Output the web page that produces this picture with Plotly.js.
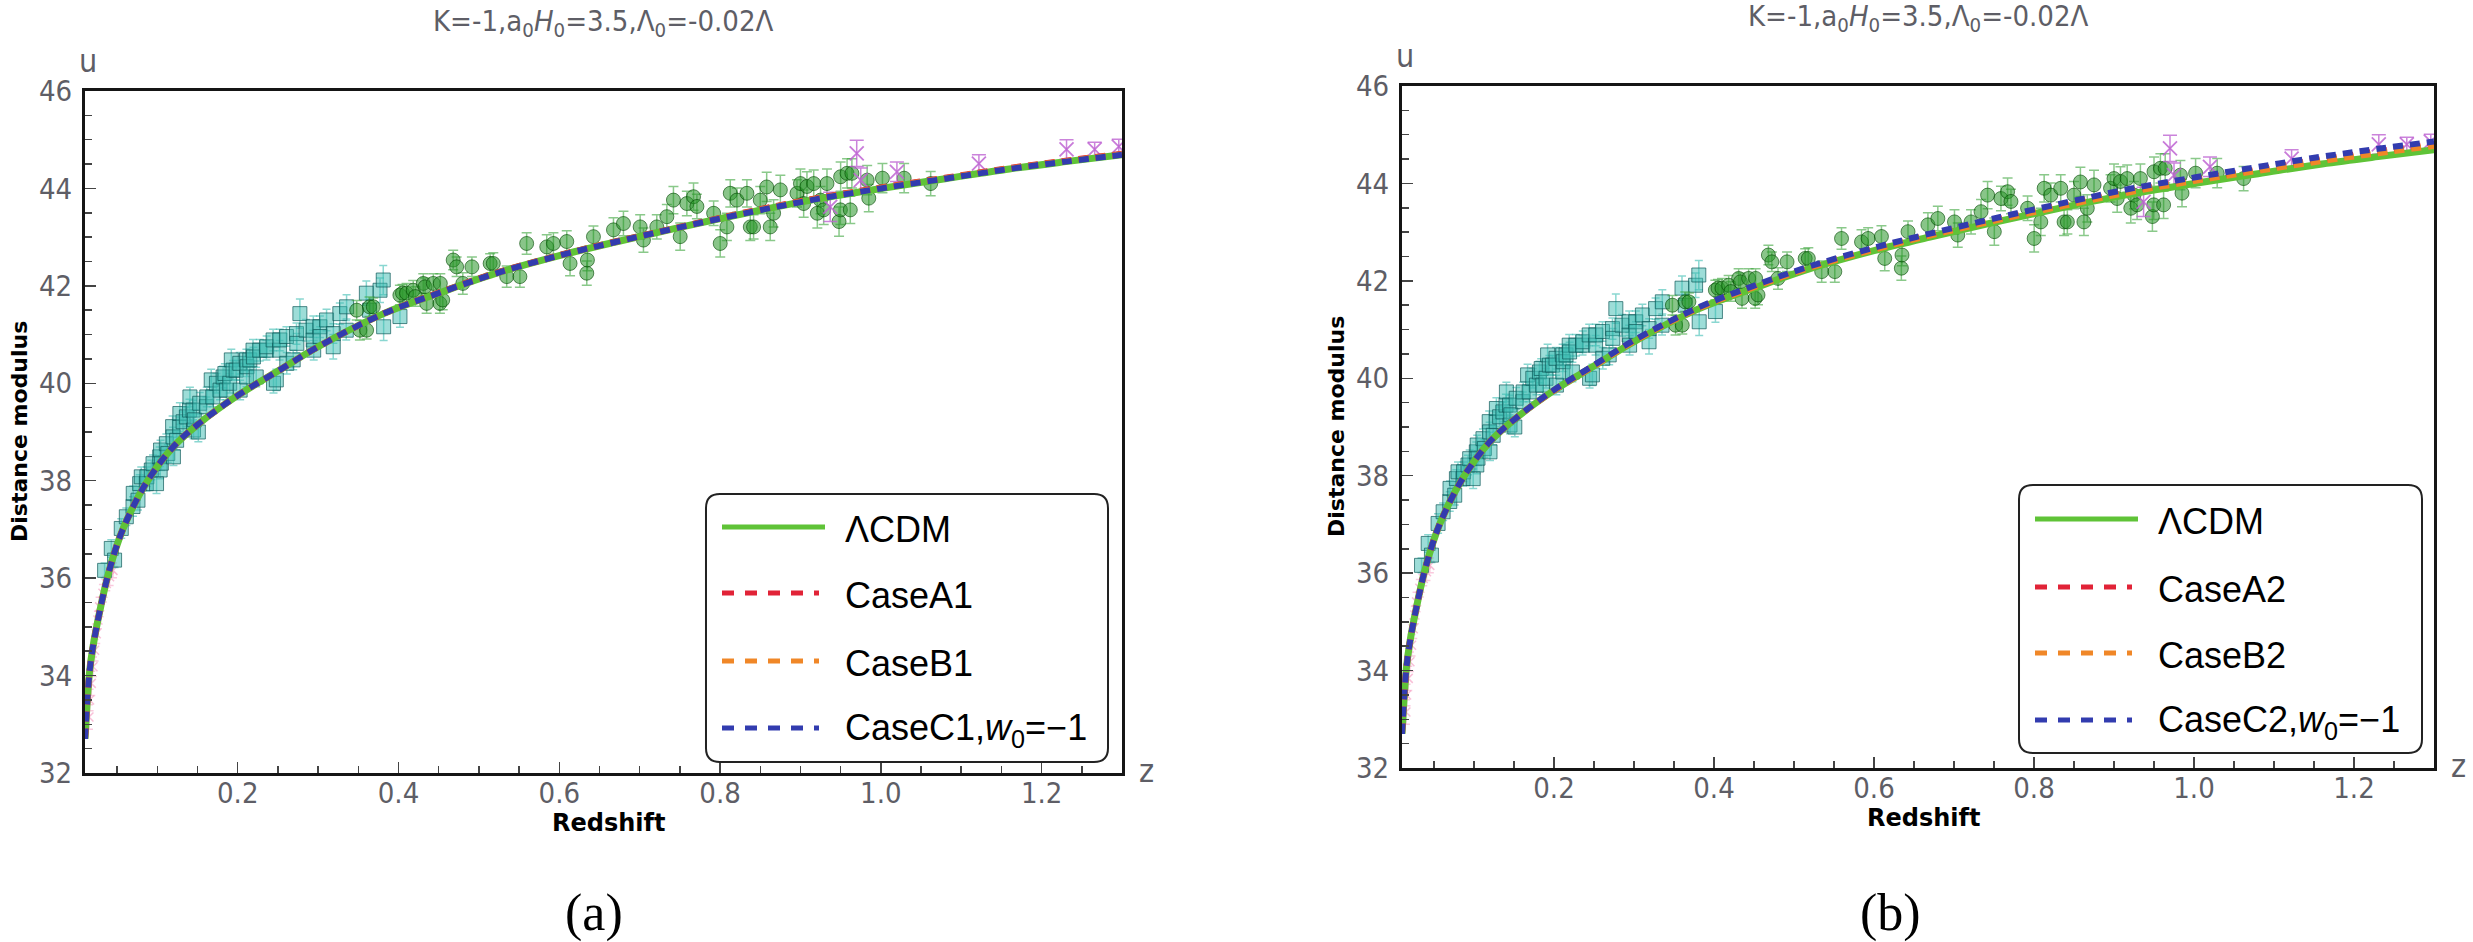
<!DOCTYPE html>
<html>
<head>
<meta charset="utf-8">
<script src="https://cdn.plot.ly/plotly-3.0.1.min.js"></script>
<style>
  html, body { margin: 0; padding: 0; background: #fff; }
  #chart { width: 2473px; height: 942px; }
</style>
</head>
<body>
<div id="chart"></div>
<script>
// page size in px
const W = 2473, H = 942;

// ---- data (same supernova sample in both panels) ----
// low-z sample, cyan squares
const zCyan = [0.0344, 0.0427, 0.0468, 0.0551, 0.0614, 0.0697, 0.0700, 0.0759, 0.0780, 0.0800,
  0.0863, 0.0870, 0.0925, 0.0946, 0.0990, 0.1029, 0.1035, 0.1040, 0.1050, 0.1112,
  0.1130, 0.1190, 0.1195, 0.1200, 0.1240, 0.1278, 0.1280, 0.1320, 0.1361, 0.1400,
  0.1405, 0.1444, 0.1450, 0.1460, 0.1510, 0.1527, 0.1610, 0.1615, 0.1670, 0.1690,
  0.1735, 0.1780, 0.1818, 0.1840, 0.1859, 0.1900, 0.1920, 0.1942, 0.1980, 0.2025,
  0.2030, 0.2108, 0.2110, 0.2115, 0.2150, 0.2190, 0.2195, 0.2230, 0.2274, 0.2357,
  0.2360, 0.2440, 0.2445, 0.2480, 0.2520, 0.2523, 0.2606, 0.2610, 0.2690, 0.2731,
  0.2735, 0.2773, 0.2850, 0.2939, 0.2940, 0.2945, 0.3022, 0.3025, 0.3105, 0.3188,
  0.3190, 0.3270, 0.3350, 0.3354, 0.3600, 0.3640, 0.3770, 0.3810, 0.3815, 0.4018];
const muCyan = [36.16, 36.61, 36.37, 37.02, 37.26, 37.47, 37.74, 37.60, 37.94, 38.08,
  37.94, 38.08, 38.22, 38.35, 37.94, 38.49, 38.22, 38.63, 38.36, 38.76,
  38.56, 39.11, 38.90, 38.49, 38.83, 39.11, 39.38, 39.21, 39.31, 39.45,
  39.72, 39.45, 39.04, 39.25, 39.00, 39.59, 39.52, 39.72, 40.07, 39.72,
  40.00, 39.86, 40.13, 40.20, 39.86, 40.00, 40.48, 40.27, 40.27, 40.41,
  39.86, 40.48, 40.13, 40.34, 40.48, 40.68, 40.54, 40.13, 40.68, 40.68,
  40.75, 40.89, 40.00, 40.07, 40.68, 40.89, 40.96, 40.41, 40.48, 41.02,
  40.82, 41.43, 41.09, 40.89, 41.16, 40.68, 41.16, 40.96, 41.30, 40.75,
  41.02, 41.43, 41.09, 41.57, 41.85, 41.50, 41.91, 42.12, 41.16, 41.37];
const errCyan = [0.15, 0.18, 0.15, 0.20, 0.18, 0.20, 0.15, 0.20, 0.18, 0.20,
  0.15, 0.20, 0.20, 0.18, 0.20, 0.20, 0.18, 0.20, 0.15, 0.20,
  0.18, 0.22, 0.20, 0.18, 0.20, 0.20, 0.22, 0.20, 0.20, 0.22,
  0.20, 0.20, 0.18, 0.20, 0.20, 0.22, 0.20, 0.20, 0.22, 0.20,
  0.20, 0.20, 0.22, 0.20, 0.20, 0.20, 0.22, 0.20, 0.20, 0.22,
  0.20, 0.22, 0.20, 0.20, 0.22, 0.22, 0.20, 0.20, 0.22, 0.20,
  0.22, 0.22, 0.20, 0.22, 0.20, 0.22, 0.20, 0.22, 0.20, 0.22,
  0.20, 0.30, 0.22, 0.20, 0.22, 0.20, 0.22, 0.20, 0.22, 0.25,
  0.20, 0.22, 0.20, 0.25, 0.25, 0.22, 0.25, 0.30, 0.28, 0.22];

// very low-z sample, faint pink crosses
const zPink = [0.0149, 0.0157, 0.0178, 0.0199, 0.0219, 0.0240, 0.0261, 0.0282, 0.0323, 0.0365, 0.0406, 0.0448];
const muPink = [33.15, 33.50, 33.84, 34.18, 34.52, 34.86, 35.14, 35.41, 35.69, 35.89, 36.03, 36.16];
const errPink = [0.25, 0.22, 0.25, 0.20, 0.22, 0.20, 0.18, 0.20, 0.18, 0.15, 0.18, 0.15];

// intermediate sample, green circles
const zGreen = [0.348, 0.352, 0.3603, 0.364, 0.3686, 0.4017, 0.405, 0.410, 0.4183, 0.421,
  0.4308, 0.433, 0.435, 0.4433, 0.4515, 0.4520, 0.455, 0.468, 0.4723, 0.480,
  0.4913, 0.514, 0.5179, 0.5346, 0.551, 0.5594, 0.5844, 0.5927, 0.6093, 0.6134,
  0.6342, 0.6350, 0.6425, 0.6674, 0.6798, 0.7006, 0.7047, 0.7213, 0.7338, 0.742,
  0.7504, 0.7587, 0.767, 0.7712, 0.792, 0.8002, 0.8085, 0.8127, 0.821, 0.8334,
  0.8376, 0.8417, 0.850, 0.858, 0.8624, 0.8666, 0.875, 0.8957, 0.900, 0.904,
  0.9081, 0.9165, 0.921, 0.925, 0.9289, 0.933, 0.948, 0.9497, 0.950, 0.958,
  0.962, 0.964, 0.983, 0.985, 1.002, 1.029, 1.062];
const muGreen = [41.50, 41.09, 41.09, 41.57, 41.57, 41.81, 41.85, 41.85, 41.91, 41.78,
  42.05, 41.98, 41.64, 42.05, 41.64, 42.05, 41.71, 42.53, 42.39, 42.05,
  42.39, 42.46, 42.46, 42.19, 42.19, 42.87, 42.80, 42.87, 42.91, 42.46,
  42.26, 42.53, 43.01, 43.15, 43.28, 43.21, 42.94, 43.21, 43.42, 43.76,
  43.01, 43.69, 43.83, 43.63, 43.49, 42.87, 43.21, 43.90, 43.76, 43.90,
  43.21, 43.21, 43.76, 44.03, 43.21, 43.49, 43.97, 43.90, 44.10, 43.69,
  44.04, 44.10, 43.49, 43.76, 43.56, 44.10, 43.32, 43.56, 44.24, 44.31,
  43.56, 44.31, 44.17, 43.80, 44.21, 44.21, 44.10];
const errGreen = [0.20, 0.20, 0.18, 0.20, 0.18, 0.20, 0.18, 0.20, 0.20, 0.20,
  0.20, 0.18, 0.20, 0.20, 0.20, 0.20, 0.20, 0.20, 0.20, 0.22,
  0.20, 0.20, 0.22, 0.22, 0.22, 0.22, 0.25, 0.22, 0.22, 0.25,
  0.25, 0.22, 0.22, 0.25, 0.25, 0.25, 0.25, 0.25, 0.25, 0.28,
  0.28, 0.25, 0.28, 0.25, 0.25, 0.28, 0.28, 0.28, 0.25, 0.28,
  0.28, 0.25, 0.28, 0.30, 0.28, 0.28, 0.30, 0.28, 0.30, 0.28,
  0.30, 0.28, 0.30, 0.28, 0.30, 0.30, 0.30, 0.30, 0.30, 0.30,
  0.28, 0.30, 0.30, 0.28, 0.30, 0.30, 0.25];

// high-z sample, purple crosses
const zPurple = [0.937, 0.970, 0.975, 1.020, 1.122, 1.231, 1.266, 1.296];
const muPurple = [43.62, 44.72, 44.17, 44.34, 44.51, 44.80, 44.80, 44.86];
const errPurple = [0.30, 0.27, 0.25, 0.20, 0.18, 0.20, 0.15, 0.15];

// model curves
const zModel = [0.01, 0.0155, 0.02, 0.03, 0.04, 0.057, 0.086, 0.12, 0.15, 0.2, 0.25, 0.3, 0.38,
  0.45, 0.52, 0.6, 0.67, 0.75, 0.84, 0.92, 1.0, 1.08, 1.16, 1.23, 1.3];
const muLCDM = [32.70, 34.05, 34.60, 35.45, 36.15, 37.00, 37.95, 38.70, 39.15, 39.75, 40.25, 40.75, 41.42,
  41.85, 42.25, 42.62, 42.90, 43.20, 43.52, 43.78, 44.00, 44.20, 44.40, 44.55, 44.69];
// panel (a)
const muA1 = [32.70, 34.05, 34.60, 35.45, 36.15, 37.00, 37.95, 38.70, 39.15, 39.75, 40.25, 40.75, 41.42,
  41.86, 42.26, 42.63, 42.91, 43.21, 43.54, 43.80, 44.02, 44.22, 44.42, 44.57, 44.71];
const muB1 = [32.70, 34.05, 34.60, 35.45, 36.15, 37.00, 37.95, 38.70, 39.15, 39.75, 40.25, 40.75, 41.42,
  41.85, 42.25, 42.62, 42.90, 43.20, 43.53, 43.79, 44.01, 44.21, 44.41, 44.56, 44.70];
const muC1 = [32.70, 34.05, 34.60, 35.45, 36.15, 37.00, 37.95, 38.70, 39.15, 39.75, 40.25, 40.75, 41.42,
  41.85, 42.25, 42.62, 42.90, 43.20, 43.52, 43.78, 44.00, 44.20, 44.40, 44.55, 44.69];
// panel (b)
const muA2 = [32.70, 34.05, 34.60, 35.45, 36.15, 37.00, 37.95, 38.70, 39.15, 39.75, 40.26, 40.77, 41.44,
  41.88, 42.28, 42.66, 42.95, 43.25, 43.58, 43.85, 44.08, 44.29, 44.50, 44.66, 44.81];
const muB2 = [32.70, 34.05, 34.60, 35.45, 36.15, 37.00, 37.95, 38.70, 39.15, 39.75, 40.25, 40.76, 41.43,
  41.87, 42.27, 42.64, 42.93, 43.23, 43.55, 43.82, 44.05, 44.26, 44.46, 44.62, 44.77];
const muC2 = [32.70, 34.05, 34.60, 35.45, 36.15, 37.00, 37.95, 38.70, 39.15, 39.76, 40.27, 40.78, 41.45,
  41.90, 42.30, 42.68, 42.97, 43.28, 43.61, 43.89, 44.12, 44.34, 44.55, 44.71, 44.86];

const titleText = 'K=-1,a<sub>0</sub><i>H</i><sub>0</sub>=3.5,Λ<sub>0</sub>=-0.02Λ';
const legendA = ['ΛCDM', 'CaseA1', 'CaseB1', 'CaseC1,<i>w</i><sub>0</sub>=−1'];
const legendB = ['ΛCDM', 'CaseA2', 'CaseB2', 'CaseC2,<i>w</i><sub>0</sub>=−1'];

// ---- styles ----
const cGreenLine = 'rgb(95,195,55)';
const cRed = 'rgb(225,35,55)';
const cOrange = 'rgb(240,135,40)';
const cBlue = 'rgb(50,60,175)';
const curveColors = [cGreenLine, cRed, cOrange, cBlue];
const dashPat = '10px,7px';
const narrow = "'Liberation Sans Narrow', 'DejaVu Sans Condensed', 'Liberation Sans', sans-serif";
const grayText = '#5e5e66';

function px(x) { return x / W; }
function py(y) { return 1 - y / H; }

function dataTraces(xa, ya) {
  return [
    {
      x: zPink, y: muPink, xaxis: xa, yaxis: ya, type: 'scatter', mode: 'markers',
      marker: { symbol: 'x-thin-open', size: 9, color: 'rgba(245,150,190,0.6)',
        line: { width: 1.5, color: 'rgba(245,150,190,0.6)' } },
      error_y: { type: 'data', array: errPink, color: 'rgba(245,150,190,0.5)', thickness: 1.5, width: 4 },
      showlegend: false, hoverinfo: 'skip'
    },
    {
      x: zCyan, y: muCyan, xaxis: xa, yaxis: ya, type: 'scatter', mode: 'markers',
      marker: { symbol: 'square', size: 14, color: 'rgba(60,188,178,0.5)',
        line: { width: 1, color: 'rgba(15,90,90,0.7)' } },
      error_y: { type: 'data', array: errCyan, color: 'rgba(60,188,178,0.6)', thickness: 1.5, width: 4 },
      showlegend: false, hoverinfo: 'skip'
    },
    {
      x: zGreen, y: muGreen, xaxis: xa, yaxis: ya, type: 'scatter', mode: 'markers',
      marker: { symbol: 'circle', size: 14, color: 'rgba(40,150,40,0.55)',
        line: { width: 1, color: 'rgba(0,70,0,0.6)' } },
      error_y: { type: 'data', array: errGreen, color: 'rgba(60,165,60,0.6)', thickness: 1.5, width: 5 },
      showlegend: false, hoverinfo: 'skip'
    },
    {
      x: zPurple, y: muPurple, xaxis: xa, yaxis: ya, type: 'scatter', mode: 'markers',
      marker: { symbol: 'x-thin-open', size: 14, color: 'rgba(190,100,210,0.85)',
        line: { width: 1.8, color: 'rgba(190,100,210,0.85)' } },
      error_y: { type: 'data', array: errPurple, color: 'rgba(190,100,210,0.8)', thickness: 1.5, width: 7 },
      showlegend: false, hoverinfo: 'skip'
    }
  ];
}

function curveTraces(xa, ya, series) {
  return series.map((mu, i) => ({
    x: zModel, y: mu, xaxis: xa, yaxis: ya, type: 'scatter', mode: 'lines',
    line: { color: curveColors[i], width: i === 0 ? 7 : 6, dash: i === 0 ? 'solid' : dashPat, shape: 'spline' },
    showlegend: false, hoverinfo: 'skip'
  }));
}

const traces = [].concat(
  dataTraces('x', 'y'),
  curveTraces('x', 'y', [muLCDM, muA1, muB1, muC1]),
  dataTraces('x2', 'y2'),
  curveTraces('x2', 'y2', [muLCDM, muA2, muB2, muC2])
);

// main axes (bottom / left with labels and minor ticks)
function xMain(domain, anchor) {
  return {
    domain: domain, anchor: anchor, range: [0.01, 1.3], tick0: 0, dtick: 0.2, tickformat: '.1f',
    ticks: 'inside', ticklen: 11, tickwidth: 1.5, tickcolor: '#444',
    showline: true, linewidth: 3, linecolor: '#151515', mirror: true,
    showgrid: false, zeroline: false, ticklabelstandoff: -8,
    tickfont: { family: narrow, size: 29, color: grayText },
    minor: { dtick: 0.05, ticks: 'inside', ticklen: 7, tickwidth: 1.5, tickcolor: '#444', showgrid: false }
  };
}
function yMain(domain, anchor) {
  return {
    domain: domain, anchor: anchor, range: [32, 46], tick0: 32, dtick: 2,
    ticks: 'inside', ticklen: 11, tickwidth: 1.5, tickcolor: '#444',
    showline: true, linewidth: 3, linecolor: '#151515', mirror: true,
    showgrid: false, zeroline: false, ticklabelstandoff: 4,
    tickfont: { family: narrow, size: 29, color: grayText },
    minor: { dtick: 0.5, ticks: 'inside', ticklen: 7, tickwidth: 1.5, tickcolor: '#444', showgrid: false }
  };
}
// opposite-side axes carrying only major ticks
function xTop(over, anchor) {
  return { overlaying: over, anchor: anchor, side: 'top', range: [0.01, 1.3], tick0: 0, dtick: 0.2,
    ticks: 'inside', ticklen: 11, tickwidth: 1.5, tickcolor: '#444', showticklabels: false,
    showline: false, showgrid: false, zeroline: false };
}
function yRight(over, anchor) {
  return { overlaying: over, anchor: anchor, side: 'right', range: [32, 46], tick0: 32, dtick: 2,
    ticks: 'inside', ticklen: 11, tickwidth: 1.5, tickcolor: '#444', showticklabels: false,
    showline: false, showgrid: false, zeroline: false };
}

// panel geometry in px: [left, right, top, bottom]
const panels = [
  { l: 85, r: 1122, t: 91, b: 773, leg: [706, 494, 1108, 762], legY: [527, 593, 661, 728], labels: legendA, tag: '(a)', tagX: 594 },
  { l: 1402, r: 2434, t: 86, b: 768, leg: [2019, 485, 2422, 753], legY: [519, 587, 653, 720], labels: legendB, tag: '(b)', tagX: 1890 }
];

function roundRect(x0, y0, x1, y1, r) {
  // path in paper coordinates, built from px
  const X = v => px(v).toFixed(5), Y = v => py(v).toFixed(5);
  return 'M' + X(x0 + r) + ',' + Y(y0) + ' L' + X(x1 - r) + ',' + Y(y0) +
    ' Q' + X(x1) + ',' + Y(y0) + ' ' + X(x1) + ',' + Y(y0 + r) +
    ' L' + X(x1) + ',' + Y(y1 - r) +
    ' Q' + X(x1) + ',' + Y(y1) + ' ' + X(x1 - r) + ',' + Y(y1) +
    ' L' + X(x0 + r) + ',' + Y(y1) +
    ' Q' + X(x0) + ',' + Y(y1) + ' ' + X(x0) + ',' + Y(y1 - r) +
    ' L' + X(x0) + ',' + Y(y0 + r) +
    ' Q' + X(x0) + ',' + Y(y0) + ' ' + X(x0 + r) + ',' + Y(y0) + ' Z';
}

const shapes = [];
const annotations = [];
panels.forEach(p => {
  const [lx0, ly0, lx1, ly1] = p.leg;
  shapes.push({ type: 'path', xref: 'paper', yref: 'paper', path: roundRect(lx0, ly0, lx1, ly1, 14),
    fillcolor: '#ffffff', line: { color: '#222', width: 2 } });
  p.legY.forEach((yy, i) => {
    shapes.push({ type: 'line', xref: 'paper', yref: 'paper',
      x0: px(lx0 + 16), x1: px(lx0 + (i === 0 ? 119 : 113)), y0: py(yy), y1: py(yy),
      line: { color: curveColors[i], width: 5, dash: i === 0 ? 'solid' : '12px,11px' } });
    annotations.push({ xref: 'paper', yref: 'paper', x: px(lx0 + 137), y: py(yy + 2),
      xanchor: 'left', yanchor: 'middle', showarrow: false, text: p.labels[i],
      font: { family: "'Liberation Sans', Arial, sans-serif", size: 36, color: '#000' } });
  });
  const cx = (p.l + p.r) / 2, cy = (p.t + p.b) / 2;
  // panel title
  annotations.push({ xref: 'paper', yref: 'paper', x: px(cx), y: py(p.t - 68), xanchor: 'center', yanchor: 'middle',
    showarrow: false, text: titleText, font: { family: narrow, size: 29, color: grayText } });
  // axis titles
  annotations.push({ xref: 'paper', yref: 'paper', x: px(cx + 5), y: py(p.b + 50), xanchor: 'center', yanchor: 'middle',
    showarrow: false, text: 'Redshift', font: { family: "'DejaVu Sans', sans-serif", size: 24, color: '#000', weight: 'bold' } });
  annotations.push({ xref: 'paper', yref: 'paper', x: px(p.l - 66), y: py(cy), xanchor: 'center', yanchor: 'middle',
    textangle: -90, showarrow: false, text: 'Distance modulus',
    font: { family: "'DejaVu Sans', sans-serif", size: 22, color: '#000', weight: 'bold' } });
  // axis symbols u and z
  annotations.push({ xref: 'paper', yref: 'paper', x: px(p.l + 3), y: py(p.t - 30), xanchor: 'center', yanchor: 'middle',
    showarrow: false, text: 'u', font: { family: narrow, size: 32, color: grayText } });
  annotations.push({ xref: 'paper', yref: 'paper', x: px(p.r + 24), y: py(p.b - 2), xanchor: 'center', yanchor: 'middle',
    showarrow: false, text: 'z', font: { family: narrow, size: 32, color: grayText } });
  // sub-figure tag
  annotations.push({ xref: 'paper', yref: 'paper', x: px(p.tagX), y: py(913), xanchor: 'center', yanchor: 'middle',
    showarrow: false, text: p.tag, font: { family: "'Liberation Serif', 'DejaVu Serif', serif", size: 52, color: '#000' } });
});

const pa = panels[0], pb = panels[1];
const layout = {
  width: W, height: H,
  margin: { l: 0, r: 0, t: 0, b: 0 },
  paper_bgcolor: '#fff', plot_bgcolor: '#fff',
  showlegend: false,
  xaxis: xMain([px(pa.l), px(pa.r)], 'y'),
  yaxis: yMain([py(pa.b), py(pa.t)], 'x'),
  xaxis2: xMain([px(pb.l), px(pb.r)], 'y2'),
  yaxis2: yMain([py(pb.b), py(pb.t)], 'x2'),
  xaxis3: xTop('x', 'y'),
  yaxis3: yRight('y', 'x'),
  xaxis4: xTop('x2', 'y2'),
  yaxis4: yRight('y2', 'x2'),
  shapes: shapes,
  annotations: annotations
};

Plotly.newPlot('chart', traces, layout, { displayModeBar: false, staticPlot: true });
</script>
</body>
</html>
